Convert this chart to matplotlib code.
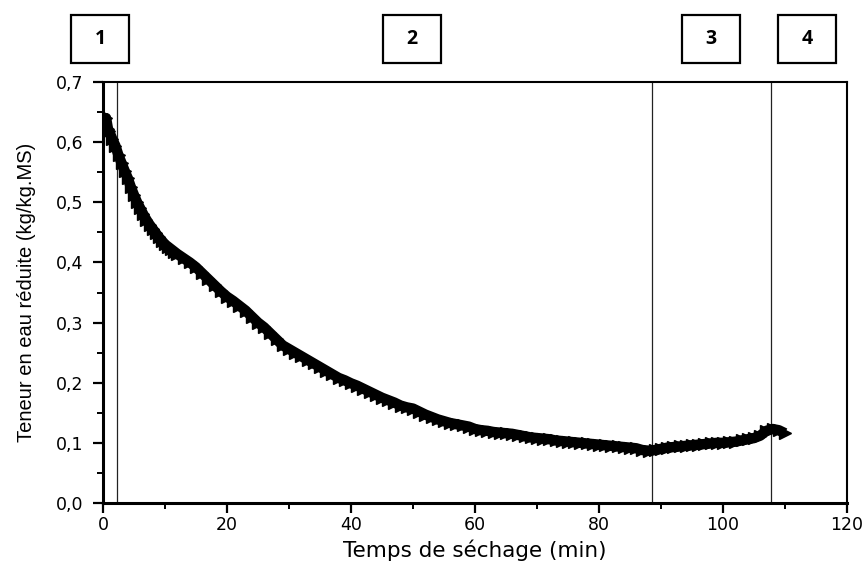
import matplotlib
matplotlib.use("Agg")
import matplotlib.pyplot as plt
from matplotlib.ticker import MultipleLocator, FuncFormatter
from matplotlib.patches import Rectangle

# ---- data ----
t_early = [0.0, 0.3, 0.5, 0.8, 1.0, 1.5, 2.0, 2.5, 3.0, 3.5, 4.0, 4.5, 5.0, 5.5, 6.0,
           6.5, 7.0, 7.5, 8.0, 8.5, 9.0, 9.5, 10.0, 10.5, 11.0, 11.5]
w_early = [0.645, 0.632, 0.640, 0.622, 0.618, 0.605, 0.594, 0.578, 0.565, 0.552, 0.540,
           0.525, 0.512, 0.500, 0.490, 0.480, 0.471, 0.463, 0.456, 0.449, 0.442, 0.436,
           0.430, 0.426, 0.422, 0.418]
t_late = list(range(12, 111))
w_late = [0.414, 0.407, 0.400, 0.392, 0.382, 0.372, 0.362, 0.352, 0.343, 0.336,
          0.328, 0.320, 0.310, 0.300, 0.292, 0.282, 0.272, 0.262, 0.256, 0.250,
          0.244, 0.238, 0.232, 0.226, 0.220, 0.214, 0.208, 0.204, 0.199, 0.195,
          0.190, 0.185, 0.180, 0.175, 0.171, 0.167, 0.162, 0.159, 0.157, 0.152,
          0.147, 0.143, 0.139, 0.136, 0.133, 0.131, 0.129, 0.127, 0.123, 0.121,
          0.120, 0.118, 0.117, 0.116, 0.115, 0.113, 0.111, 0.109, 0.108, 0.107,
          0.106, 0.104, 0.103, 0.102, 0.101, 0.100, 0.099, 0.098, 0.097, 0.096,
          0.095, 0.094, 0.093, 0.092, 0.091, 0.088, 0.087, 0.088, 0.090, 0.092,
          0.093, 0.094, 0.095, 0.096, 0.097, 0.098, 0.099, 0.100, 0.100, 0.101,
          0.102, 0.104, 0.106, 0.108, 0.112, 0.120, 0.123, 0.121, 0.116]
times = t_early + t_late
water = w_early + w_late

phase_limits = [2.2, 88.5, 107.7]
phase_labels = ["1", "2", "3", "4"]
xticks = [0, 20, 40, 60, 80, 100, 120]
yticks = [0.0, 0.1, 0.2, 0.3, 0.4, 0.5, 0.6, 0.7]

# ---- figure ----
fig = plt.figure(figsize=(8.67, 5.65), dpi=100)
ax = fig.add_axes([103/867, 1-503/565, (847-103)/867, (503-82)/565])

ax.plot(times, water, linestyle="-", linewidth=7.5, solid_capstyle="butt",
        marker=">", markersize=8.5, color="black", markeredgecolor="black", zorder=3)

for x in phase_limits:
    ax.axvline(x, color="#222222", linewidth=0.9, zorder=2)

ax.set_xlim(0, 120)
ax.set_ylim(0, 0.7)
ax.set_xticks(xticks)
ax.set_yticks(yticks)
ax.xaxis.set_minor_locator(MultipleLocator(10))
ax.yaxis.set_minor_locator(MultipleLocator(0.05))
ax.yaxis.set_major_formatter(FuncFormatter(lambda v, p: f"{v:.1f}".replace(".", ",")))

ax.tick_params(which="major", direction="out", length=7, width=1.6,
               labelsize=12.5, top=False, right=False)
ax.tick_params(axis="y", which="major", pad=7)
ax.tick_params(axis="x", which="major", pad=2)
ax.tick_params(which="minor", direction="out", length=4, width=1.4,
               top=False, right=False)
for lab in ax.get_xticklabels() + ax.get_yticklabels():
    lab.set_fontfamily("DejaVu Sans")

ax.spines["left"].set_linewidth(2.2)
ax.spines["bottom"].set_linewidth(2.2)
ax.spines["top"].set_linewidth(1.5)
ax.spines["right"].set_linewidth(1.5)

ax.set_xlabel("Temps de séchage (min)", fontsize=15.5, family="DejaVu Sans", labelpad=4)
ax.set_ylabel("Teneur en eau réduite (kg/kg.MS)", fontsize=14.5,
              family="Liberation Sans", labelpad=14)

# phase boxes
box_left_px = [71, 383, 682, 778]
for xl, lab in zip(box_left_px, phase_labels):
    x0 = xl / 867
    w = 58 / 867
    y0 = 1 - 63 / 565
    h = 48 / 565
    fig.patches.append(Rectangle((x0, y0), w, h, transform=fig.transFigure,
                                 fill=False, edgecolor="black", linewidth=1.6))
    fig.text(x0 + w / 2, y0 + h / 2, lab, ha="center", va="center",
             fontsize=14, fontweight="bold", family="Open Sans")

fig.savefig("out.png", dpi=100)
